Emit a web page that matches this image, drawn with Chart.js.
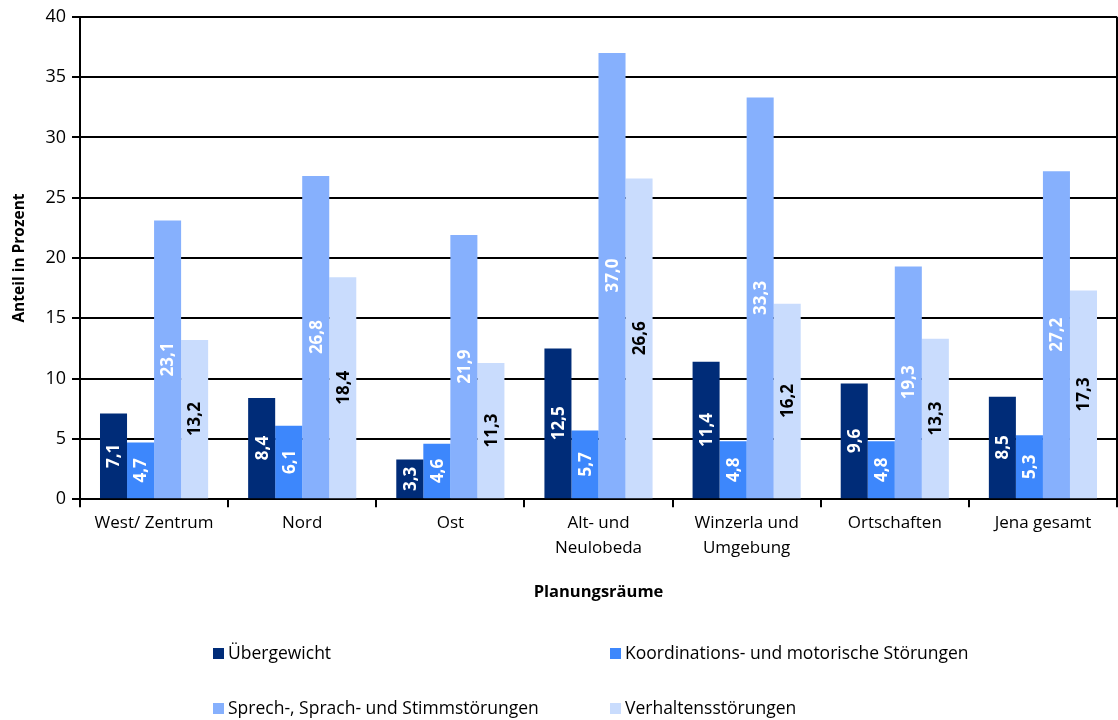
<!DOCTYPE html>
<html>
<head>
<meta charset="utf-8">
<script src="https://cdn.jsdelivr.net/npm/chart.js@4.4.1/dist/chart.umd.min.js"></script>
<style>
  html, body { margin: 0; padding: 0; background: #fff; }
  #wrap { width: 1118px; height: 720px; position: relative; }
</style>
</head>
<body>
<div id="wrap"><canvas id="myChart"></canvas></div>
<script>
// Planungsräume (x categories)
const categories = [
  'West/ Zentrum',
  'Nord',
  'Ost',
  ['Alt- und', 'Neulobeda'],
  ['Winzerla und', 'Umgebung'],
  'Ortschaften',
  'Jena gesamt',
];

const seriesLabels = [
  'Übergewicht',
  'Koordinations- und motorische Störungen',
  'Sprech-, Sprach- und Stimmstörungen',
  'Verhaltensstörungen',
];

// Anteil in Prozent
const uebergewicht   = [7.1, 8.4, 3.3, 12.5, 11.4, 9.6, 8.5];
const koordination   = [4.7, 6.1, 4.6, 5.7, 4.8, 4.8, 5.3];
const sprech         = [23.1, 26.8, 21.9, 37.0, 33.3, 19.3, 27.2];
const verhalten      = [13.2, 18.4, 11.3, 26.6, 16.2, 13.3, 17.3];

const seriesColors = ['#002c78', '#3d87fc', '#86b0fd', '#c9dcfd'];
const labelColors  = ['#ffffff', '#ffffff', '#ffffff', '#000000'];

const yTicks = { min: 0, max: 40, step: 5 };

const FONT = '"Open Sans", "DejaVu Sans", sans-serif';

// rotated value labels in the middle of each bar
const barValueLabels = {
  id: 'barValueLabels',
  afterDatasetsDraw(chart) {
    const { ctx } = chart;
    ctx.save();
    ctx.font = 'bold 17px ' + FONT;
    ctx.textAlign = 'center';
    ctx.textBaseline = 'middle';
    chart.data.datasets.forEach((ds, di) => {
      const meta = chart.getDatasetMeta(di);
      meta.data.forEach((bar, i) => {
        const v = ds.data[i];
        const yMid = (bar.y + bar.base) / 2;
        ctx.save();
        ctx.translate(bar.x, yMid);
        ctx.rotate(-Math.PI / 2);
        ctx.fillStyle = labelColors[di];
        ctx.fillText(v.toFixed(1).replace('.', ','), 0, 1);
        ctx.restore();
      });
    });
    ctx.restore();
  }
};

// right frame line
const rightFrame = {
  id: 'rightFrame',
  afterDraw(chart) {
    const { ctx, chartArea } = chart;
    ctx.save();
    ctx.strokeStyle = '#000';
    ctx.lineWidth = 2;
    ctx.beginPath();
    ctx.moveTo(chartArea.right, chartArea.top);
    ctx.lineTo(chartArea.right, chartArea.bottom);
    ctx.stroke();
    ctx.restore();
  }
};

// two-column legend below the axis title
const gridLegend = {
  id: 'gridLegend',
  afterDraw(chart) {
    const { ctx } = chart;
    const cols = [213, 610];
    const rows = [654, 709];
    ctx.save();
    ctx.font = '17.5px ' + FONT;
    ctx.textBaseline = 'middle';
    ctx.textAlign = 'left';
    chart.data.datasets.forEach((ds, i) => {
      const x = cols[i % 2];
      const y = rows[Math.floor(i / 2)];
      ctx.fillStyle = ds.backgroundColor;
      ctx.fillRect(x, y - 6, 11, 11);
      ctx.fillStyle = '#000';
      ctx.fillText(ds.label, x + 15, y);
    });
    ctx.restore();
  }
};

const seriesData = [uebergewicht, koordination, sprech, verhalten];

new Chart(document.getElementById('myChart'), {
  type: 'bar',
  data: {
    labels: categories,
    datasets: seriesData.map((d, i) => ({
      label: seriesLabels[i],
      data: d,
      backgroundColor: seriesColors[i],
      borderWidth: 0,
      categoryPercentage: 0.73,
      barPercentage: 1.0,
    })),
  },
  plugins: [barValueLabels, rightFrame, gridLegend],
  options: {
    responsive: true,
    maintainAspectRatio: false,
    animation: false,
    layout: { padding: { left: 10, right: 1, top: 15, bottom: 118 } },
    plugins: {
      legend: { display: false },
      tooltip: { enabled: false },
    },
    scales: {
      x: {
        grid: { drawOnChartArea: false, drawTicks: true, tickLength: 8, color: '#000', lineWidth: 2 },
        border: { color: '#000', width: 2 },
        ticks: { color: '#000', font: { family: FONT, size: 17, lineHeight: 1.5 }, maxRotation: 0, autoSkip: false, padding: 3 },
        title: { display: true, text: 'Planungsräume', color: '#000', font: { family: FONT, size: 16.5, weight: 'bold' }, padding: { top: 18, bottom: 0 } },
      },
      y: {
        min: yTicks.min,
        max: yTicks.max,
        ticks: { stepSize: yTicks.step, color: '#000', font: { family: FONT, size: 18 }, padding: 6 },
        grid: { color: '#000', lineWidth: 2, tickLength: 8 },
        border: { color: '#000', width: 2 },
        title: { display: true, text: 'Anteil in Prozent', color: '#000', font: { family: FONT, size: 15.5, weight: 'bold' }, padding: { top: 0, bottom: 4 } },
        afterFit(scale) { scale.width = 70; },
      },
    },
  },
});
</script>
</body>
</html>
